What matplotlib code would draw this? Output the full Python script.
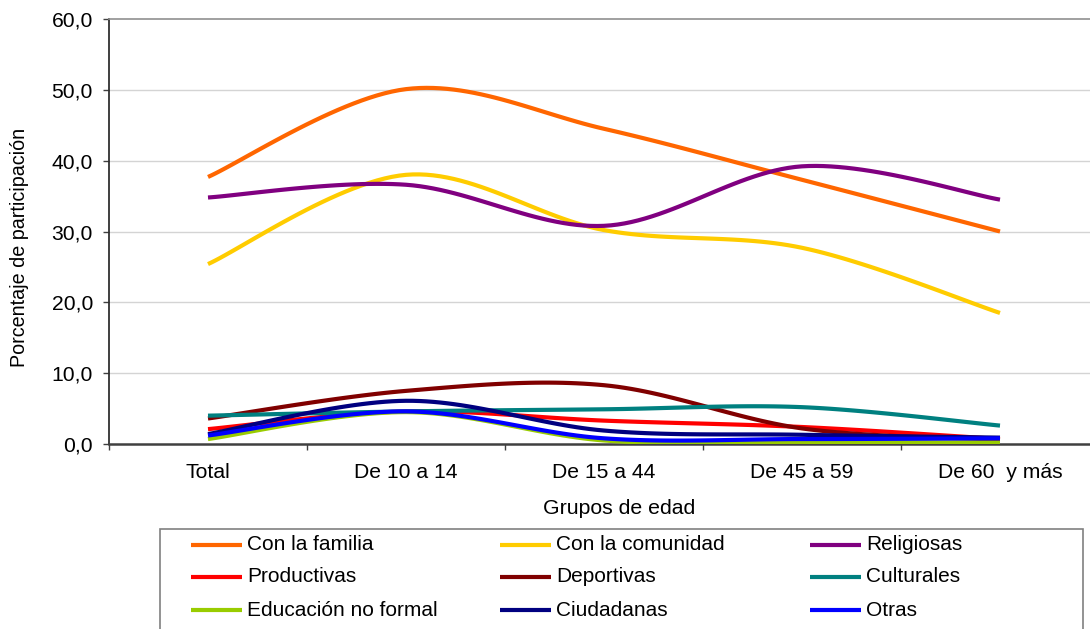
import numpy as np
import matplotlib
matplotlib.use("Agg")
import matplotlib.pyplot as plt
from matplotlib.lines import Line2D
from matplotlib.patches import Rectangle

plt.rcParams['font.family'] = ['Liberation Sans', 'DejaVu Sans']

categories = ["Total", "De 10 a 14", "De 15 a 44", "De 45 a 59", "De 60  y más"]
series_names = ["Con la familia", "Con la comunidad", "Religiosas",
                "Productivas", "Deportivas", "Culturales",
                "Educación no formal", "Ciudadanas", "Otras"]
familia = [37.7, 50.1, 44.5, 37.3, 30.0]
comunidad = [25.4, 38.0, 30.2, 27.7, 18.5]
religiosas = [34.8, 36.6, 30.8, 39.2, 34.5]
productivas = [2.1, 4.6, 3.3, 2.4, 0.7]
deportivas = [3.6, 7.5, 8.3, 2.2, 0.6]
culturales = [4.0, 4.6, 4.9, 5.2, 2.6]
educacion = [0.7, 4.5, 0.5, 0.3, 0.2]
ciudadanas = [1.4, 6.1, 1.9, 1.3, 0.9]
otras = [1.2, 4.6, 0.8, 0.7, 0.8]
series_values = [familia, comunidad, religiosas, productivas, deportivas,
                 culturales, educacion, ciudadanas, otras]
colors = ["#FF6600", "#FFCC00", "#800080", "#FF0000", "#800000",
          "#008080", "#99CC00", "#000080", "#0000FF"]

yticks = [0, 10, 20, 30, 40, 50, 60]


def smooth(vals, n=30):
    """Excel-like smoothed line: cubic Bezier through points (Catmull-Rom tangents)."""
    y = np.asarray(vals, dtype=float)
    x = np.arange(len(y), dtype=float)
    xs, ys = [], []
    for i in range(len(y) - 1):
        p0 = np.array([x[max(i - 1, 0)], y[max(i - 1, 0)]])
        p1 = np.array([x[i], y[i]])
        p2 = np.array([x[i + 1], y[i + 1]])
        p3 = np.array([x[min(i + 2, len(y) - 1)], y[min(i + 2, len(y) - 1)]])
        c1 = p1 + (p2 - p0) / 6.0
        c2 = p2 - (p3 - p1) / 6.0
        t = np.linspace(0, 1, n)[:, None]
        pts = ((1 - t) ** 3) * p1 + 3 * ((1 - t) ** 2) * t * c1 + 3 * (1 - t) * t ** 2 * c2 + t ** 3 * p2
        if i > 0:
            pts = pts[1:]
        xs.extend(pts[:, 0])
        ys.extend(pts[:, 1])
    return np.array(xs), np.array(ys)


W, H = 1090, 629
fig = plt.figure(figsize=(W / 100, H / 100), dpi=100)
ax_l, ax_r, ax_t, ax_b = 109, 1099, 19, 444
ax = fig.add_axes([ax_l / W, 1 - ax_b / H, (ax_r - ax_l) / W, (ax_b - ax_t) / H])

for vals, col in zip(series_values, colors):
    xs, ys = smooth(vals)
    ax.plot(xs, ys, color=col, lw=3.0, solid_capstyle='butt', zorder=3)

ax.set_xlim(-0.5, 4.5)
ax.set_ylim(0, 60)
ax.set_yticks(yticks)
ax.set_yticklabels([f"{v:.1f}".replace('.', ',') for v in yticks], fontsize=15.2)
for v in yticks[1:-1]:
    ax.axhline(v, color="#d4d4d4", lw=1, zorder=1)

ax.set_xticks(range(len(categories)))
ax.set_xticklabels(categories, fontsize=15.2)
ax.set_xticks(np.arange(-0.5, len(categories) - 0.5, 1.0), minor=True)
ax.tick_params(axis='x', which='major', length=0, pad=14)
ax.tick_params(axis='x', which='minor', length=4.5, width=1, color="#404040", direction='out')
ax.tick_params(axis='y', length=4.5, width=1, color="#404040", pad=7)

ax.spines['right'].set_visible(False)
ax.spines['top'].set_color("#909090")
ax.spines['top'].set_linewidth(1.2)
ax.spines['left'].set_color("#303030")
ax.spines['left'].set_linewidth(1.3)
ax.spines['bottom'].set_color("#404040")
ax.spines['bottom'].set_linewidth(1.8)

fig.text(20 / W, 1 - 247 / H, "Porcentaje de participación", rotation=90,
         ha='center', va='center', fontsize=14.2)
fig.text(619 / W, 1 - 508 / H, "Grupos de edad", ha='center', va='center', fontsize=15.3)

# legend (manual, Excel-like fixed column layout)
box = Rectangle((160 / W, -0.05), (1083 - 160) / W, (1 - 529 / H) + 0.05,
                transform=fig.transFigure, facecolor='white', edgecolor='#808080',
                lw=1.2, zorder=5)
fig.patches.append(box)
col_x = [191, 500, 810]
row_y = [545, 577, 610]
for i, (name, col) in enumerate(zip(series_names, colors)):
    r, c = divmod(i, 3)
    x0 = col_x[c]
    y0 = 1 - row_y[r] / H
    fig.add_artist(Line2D([x0 / W, (x0 + 51) / W], [y0, y0], transform=fig.transFigure,
                          color=col, lw=3.0, solid_capstyle='butt', zorder=6))
    fig.text((x0 + 56) / W, y0, name, ha='left', va='center', fontsize=15, zorder=6)

fig.savefig("out.png", dpi=100)
